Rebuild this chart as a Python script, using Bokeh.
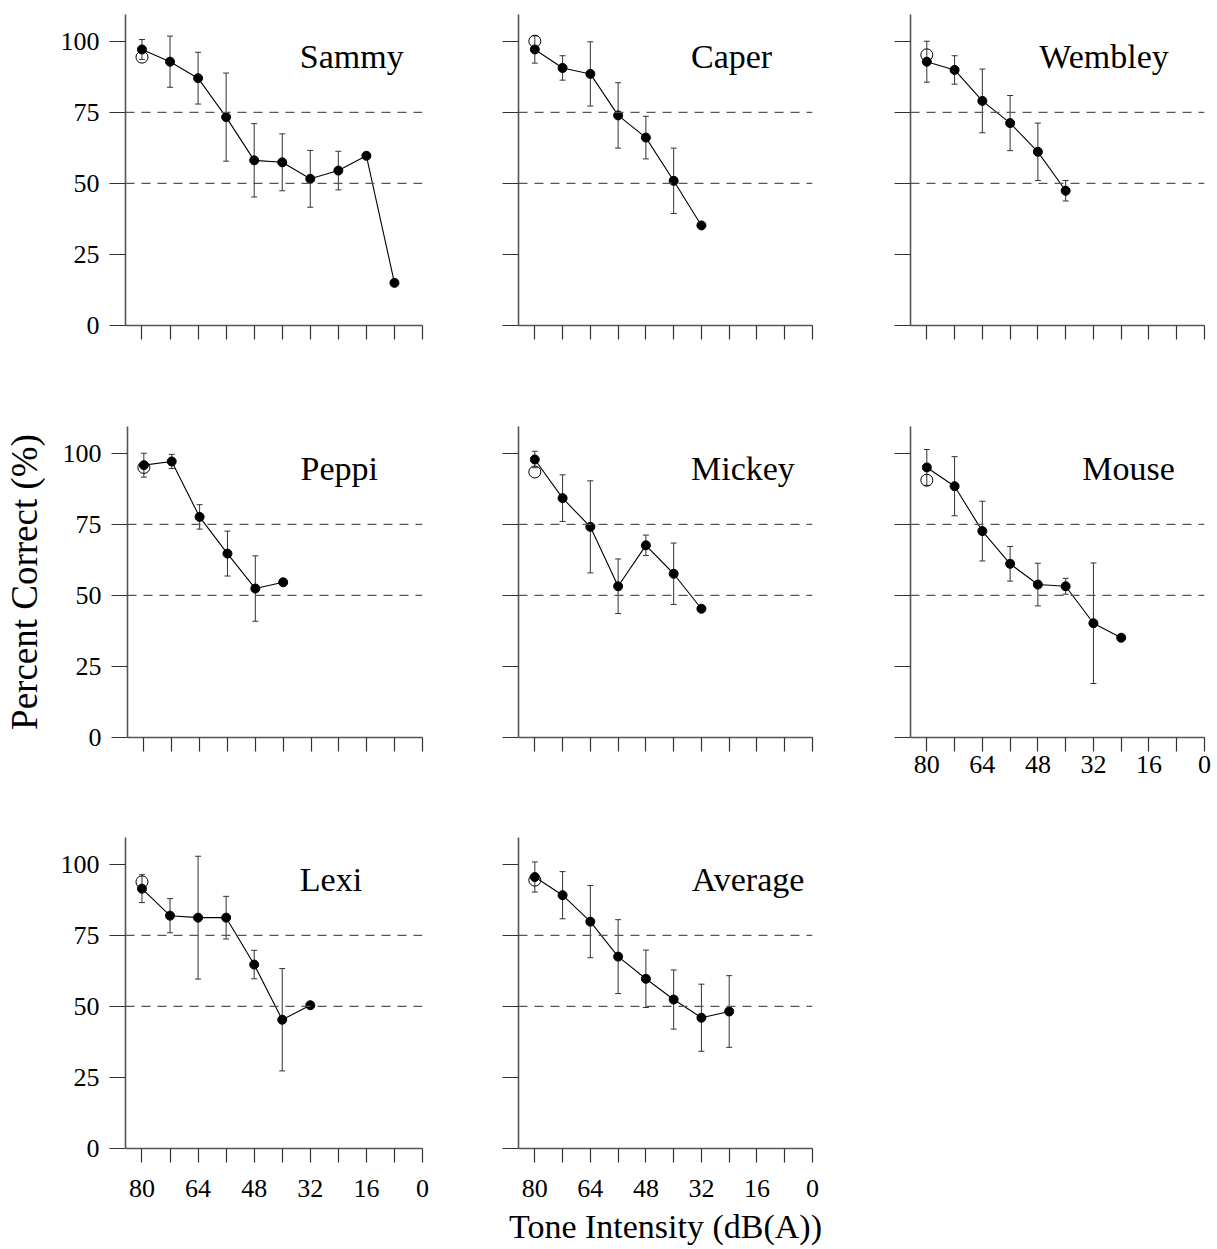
import math
from bokeh.plotting import figure
from bokeh.models import ColumnDataSource, Whisker, TeeHead, Span, Label, FixedTicker, Range1d
from bokeh.layouts import column, row
from bokeh.embed import file_html
from bokeh.resources import INLINE

# ---------------- data ----------------
intensity = [80, 72, 64, 56, 48, 40, 32, 24, 16, 8]

names = ["Sammy", "Caper", "Wembley", "Peppi", "Mickey", "Mouse", "Lexi", "Average"]

nan = float("nan")
sammy_mean = [97.1, 92.8, 87.0, 73.3, 58.1, 57.4, 51.6, 54.5, 59.7, 15.0]
sammy_err = [3.5, 9.0, 9.1, 15.5, 12.9, 10.0, 10.0, 6.8, nan, nan]

caper_mean = [97.1, 90.6, 88.5, 73.9, 66.1, 50.9, 35.2]
caper_err = [4.8, 4.3, 11.3, 11.5, 7.5, 11.5, nan]

wembley_mean = [92.8, 89.9, 79.0, 71.2, 61.1, 47.4]
wembley_err = [7.2, 5.0, 11.2, 9.7, 10.1, 3.6]

peppi_mean = [95.8, 97.1, 77.6, 64.7, 52.4, 54.6]
peppi_err = [4.2, 2.5, 4.3, 7.9, 11.5, nan]

mickey_mean = [97.8, 84.2, 74.1, 53.2, 67.6, 57.6, 45.3]
mickey_err = [2.9, 8.2, 16.2, 9.6, 3.6, 10.8, nan]

mouse_mean = [95.0, 88.4, 72.6, 61.1, 53.8, 53.2, 40.2, 35.1]
mouse_err = [6.3, 10.4, 10.5, 6.1, 7.5, 2.8, 21.2, nan]

lexi_mean = [91.4, 81.9, 81.2, 81.2, 64.7, 45.3, 50.4]
lexi_err = [4.9, 6.0, 21.6, 7.5, 5.0, 18.0, nan]

average_mean = [95.5, 89.1, 79.8, 67.5, 59.7, 52.4, 46.0, 48.2]
average_err = [5.3, 8.3, 12.7, 13.0, 10.1, 10.4, 11.8, 12.6]

# open circle: value at 80 dB(A) from the first test
open_80 = [94.4, 100.0, 95.2, 95.0, 93.4, 90.5, 93.8, 94.4]

y_ticks = [0, 25, 50, 75, 100]
x_major = [80, 64, 48, 32, 16, 0]
x_minor = [72, 56, 40, 24, 8]
criteria = [50, 75]

means = [sammy_mean, caper_mean, wembley_mean, peppi_mean,
         mickey_mean, mouse_mean, lexi_mean, average_mean]
errs = [sammy_err, caper_err, wembley_err, peppi_err,
        mickey_err, mouse_err, lexi_err, average_err]

# ---------------- layout ----------------
FONT = "Liberation Serif"
AX = "#555555"
col_w = [297, 294, 294]
col_l = [125, 76, 78]
col_r = [20, 20, 11]
frame_h = 311
row_t = [14, 61, 40]
row_b = [40, 60, 101]
label_x = [35, 35, 47.6, 35, 35, 35.2, 35, 34.8]
label_y = 94.5


def make_panel(i):
    r, c = divmod(i, 3)
    show_x = (i >= 5)
    show_y = (c == 0)
    p = figure(width=col_l[c] + col_w[c] + col_r[c],
               height=row_t[r] + frame_h + row_b[r],
               x_range=Range1d(84.7, 0), y_range=Range1d(0, 109.4),
               output_backend="svg", toolbar_location=None,
               min_border_left=col_l[c], min_border_right=col_r[c],
               min_border_top=row_t[r], min_border_bottom=row_b[r])
    p.outline_line_color = None
    p.xgrid.visible = False
    p.ygrid.visible = False
    p.background_fill_color = "white"
    p.border_fill_color = "white"

    xa = p.xaxis[0]
    if show_x:
        xa.ticker = FixedTicker(ticks=x_major, minor_ticks=x_minor)
    else:
        xa.ticker = FixedTicker(ticks=[], minor_ticks=x_major + x_minor)
    xa.axis_line_color = AX
    xa.axis_line_width = 1.4
    xa.major_tick_line_color = "#333333"
    xa.minor_tick_line_color = "#333333"
    xa.major_tick_line_width = 1.2
    xa.minor_tick_line_width = 1.2
    xa.major_tick_in = 0
    xa.major_tick_out = 14
    xa.minor_tick_in = 0
    xa.minor_tick_out = 14
    xa.major_label_text_font = FONT
    xa.major_label_text_color = "black"
    xa.major_label_text_font_size = "26px"
    xa.major_label_standoff = 4 if i == 5 else 17

    ya = p.yaxis[0]
    if show_y:
        ya.ticker = FixedTicker(ticks=y_ticks, minor_ticks=[])
    else:
        ya.ticker = FixedTicker(ticks=[], minor_ticks=y_ticks)
    ya.axis_line_color = AX
    ya.axis_line_width = 1.6
    ya.major_tick_line_color = "#333333"
    ya.minor_tick_line_color = "#333333"
    ya.major_tick_line_width = 1.2
    ya.minor_tick_line_width = 1.2
    ya.major_tick_in = 0
    ya.major_tick_out = 16
    ya.minor_tick_in = 0
    ya.minor_tick_out = 16
    ya.major_label_text_font = FONT
    ya.major_label_text_color = "black"
    ya.major_label_text_font_size = "26px"
    ya.major_label_standoff = 10

    if i == 3:
        ya.axis_label = "Percent Correct (%)"
        ya.axis_label_text_font = FONT
        ya.axis_label_text_font_style = "normal"
        ya.axis_label_text_font_size = "37px"
        ya.axis_label_text_color = "black"
        ya.axis_label_standoff = 15
    if i == 7:
        xa.axis_label = "Tone Intensity (dB(A))"
        xa.axis_label_text_font = FONT
        xa.axis_label_text_font_style = "normal"
        xa.axis_label_text_font_size = "34px"
        xa.axis_label_text_color = "black"
        xa.axis_label_standoff = 8

    for lvl in criteria:
        p.add_layout(Span(location=lvl, dimension="width", line_color=AX,
                          line_width=1.2, line_dash="9 7"))

    m = means[i]
    e = errs[i]
    xs = intensity[:len(m)]
    bx, up, lo = [], [], []
    for xv, mv, ev in zip(xs, m, e):
        if not math.isnan(ev):
            bx.append(xv)
            up.append(mv + ev)
            lo.append(mv - ev)
    wsrc = ColumnDataSource(dict(base=bx, upper=up, lower=lo))
    p.add_layout(Whisker(base="base", upper="upper", lower="lower", source=wsrc,
                         dimension="height", line_color="#333333", line_width=1,
                         upper_head=TeeHead(size=6, line_color="#333333", line_width=1),
                         lower_head=TeeHead(size=6, line_color="#333333", line_width=1)))

    src = ColumnDataSource(dict(x=xs, y=m))
    p.line("x", "y", source=src, line_color="black", line_width=1.1)
    p.scatter(x=[intensity[0]], y=[open_80[i]], marker="circle", size=12,
              fill_color=None, line_color="black", line_width=1)
    p.scatter("x", "y", source=src, marker="circle", size=9,
              fill_color="black", line_color="black")

    p.add_layout(Label(x=label_x[i], y=label_y, text=names[i], text_font=FONT,
                       text_font_size="34px", text_color="black",
                       text_align="left", text_baseline="alphabetic"))
    return p


panels = [make_panel(i) for i in range(8)]
layout = column(row(panels[0], panels[1], panels[2]),
                row(panels[3], panels[4], panels[5]),
                row(panels[6], panels[7]))

with open("out.html", "w") as f:
    f.write(file_html(layout, INLINE))
